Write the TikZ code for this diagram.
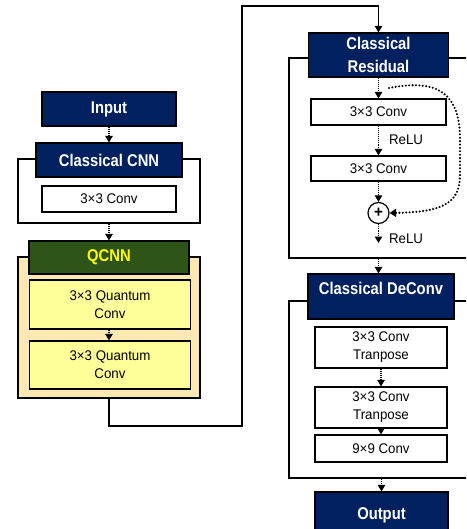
\documentclass[tikz,border=0pt]{standalone}
\usepackage{fontspec}
\setmainfont[FakeStretch=0.95]{Liberation Sans}
\newfontfamily\hdrfam[FakeStretch=0.87]{Liberation Sans}
\usetikzlibrary{arrows.meta,calc}
\definecolor{navy}{HTML}{002060}
\definecolor{qgreen}{HTML}{2E5418}
\definecolor{qtext}{HTML}{FFFF00}
\definecolor{tan}{HTML}{FCE8B2}
\definecolor{qbox}{HTML}{FFFF99}
\newcommand\hdrfont{\hdrfam\bfseries\fontsize{17}{23}\selectfont}
\newcommand\boxfont{\fontsize{14}{18}\selectfont}
\begin{document}
\begin{tikzpicture}[x=1pt,y=-1pt,
  hdr/.style={draw=black, line width=1.2pt, fill=navy, text=white, font=\hdrfont, inner sep=0pt, align=center},
  box/.style={draw=black, line width=1.2pt, fill=white, inner sep=0pt, align=center, font=\boxfont},
  frame/.style={draw=black, line width=1.8pt, inner sep=0pt},
  darr/.style={densely dotted, line width=1.1pt, -{Triangle[length=6.5pt,width=7.5pt]}},
  conn/.style={line width=1.2pt, -{Triangle[length=6.5pt,width=7.5pt]}},
  skip/.style={line width=2.3pt, line cap=round, dash pattern=on 0pt off 3.4pt, -{Triangle[length=6.5pt,width=8pt]}},
  lbl/.style={inner sep=0pt, font=\boxfont}]
\useasboundingbox (0,0) rectangle (466,529);
\clip (0,0) rectangle (466,529);

% ---------- left column ----------
\node[frame, minimum width=182pt, minimum height=64pt] (cnnf) at (109,191) {};
\node[frame, fill=tan, minimum width=182pt, minimum height=141pt] (qf) at (109,327.5) {};

\node[hdr, minimum width=134pt, minimum height=34pt] (in) at (109,109) {Input};
\node[hdr, minimum width=146pt, minimum height=34pt] (ch) at (109,160) {Classical CNN};
\node[box, minimum width=134pt, minimum height=26pt] (c0) at (109,199) {3×3 Conv};

\node[hdr, fill=qgreen, text=qtext, minimum width=160pt, minimum height=33pt] (qh) at (109,257.5) {QCNN};
\node[box, fill=qbox, minimum width=161pt, minimum height=49pt] (q1) at (110,304.5) {3×3 Quantum\\Conv};
\node[box, fill=qbox, minimum width=161pt, minimum height=48pt] (q2) at (110,365) {3×3 Quantum\\Conv};

\draw[darr] (in.south) -- (ch.north);
\draw[darr] (cnnf.south) -- (qh.north);
\draw[darr] (q1.south -| qh.south) -- (q2.north -| qh.south);

% ---------- long connector ----------
\coordinate (c1) at (242,426);
\coordinate (c2) at (242,6);

% ---------- right column ----------
\node[frame, minimum width=211pt, minimum height=200pt] (rf) at (394.5,158) {};
\node[frame, minimum width=211pt, minimum height=177pt] (df) at (394.5,389.5) {};

\node[hdr, minimum width=140pt, minimum height=44pt] (rh) at (378.5,55) {Classical\\Residual};
\node[box, minimum width=135pt, minimum height=26pt] (r1) at (378.5,112) {3×3 Conv};
\node[lbl] (relu1) at (406,140) {ReLU};
\node[box, minimum width=135pt, minimum height=25pt] (r2) at (378.5,168.5) {3×3 Conv};
\node[draw=black, line width=1.2pt, circle, fill=white, minimum size=21pt, inner sep=0pt, font=\bfseries\fontsize{16}{16}\selectfont] (plus) at (378.5,213) {+};
\coordinate (reluend) at (378.5,243);
\node[lbl] (relu2) at (406,239) {ReLU};
\coordinate (skipstart) at (389,88);

\node[hdr, minimum width=146pt, minimum height=45pt, text height=12pt, text depth=17pt] (dh) at (381,296.5) {Classical DeConv};
\node[box, minimum width=132pt, minimum height=41pt] (d1) at (381,347.5) {3×3 Conv\\Tranpose};
\node[box, minimum width=132pt, minimum height=41pt] (d2) at (381,407.5) {3×3 Conv\\Tranpose};
\node[box, minimum width=132pt, minimum height=27pt] (d3) at (381,448.5) {9×9 Conv};
\node[hdr, minimum width=133pt, minimum height=46pt] (out) at (381.5,515) {Output};

\draw[conn] (qf.south) |- (c1) -- (c2) -| (rh.north);
\draw[darr] (rh.south) -- (r1.north);
\draw[darr] (r1.south) -- (r2.north);
\draw[darr] (r2.south) -- (plus.north);
\draw[darr] (plus.south) -- (reluend);
\draw[skip] (skipstart) .. controls (440,78) and (460,95) .. (460,140) -- (460,175) .. controls (460,205) and (440,212) .. (plus.east);
\draw[darr] (rf.south -| r2.south) -- (dh.north -| r2.south);
\draw[darr] (d1.south) -- (d2.north);
\draw[darr] (d2.south) -- (d3.north);
\draw[darr] (df.south -| out.north) -- (out.north);
\end{tikzpicture}
\end{document}
